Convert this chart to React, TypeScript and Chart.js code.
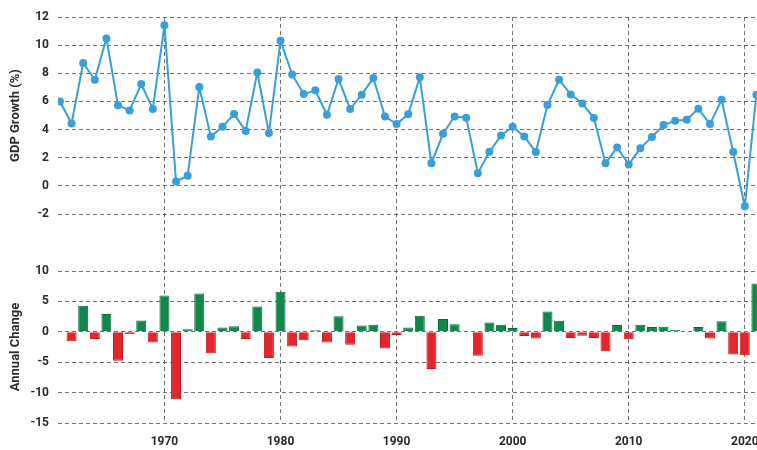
import React, { useEffect, useRef } from "react";
import { Chart, registerables } from "chart.js";

Chart.register(...registerables);

const years = [
  1961, 1962, 1963, 1964, 1965, 1966, 1967, 1968, 1969, 1970,
  1971, 1972, 1973, 1974, 1975, 1976, 1977, 1978, 1979, 1980,
  1981, 1982, 1983, 1984, 1985, 1986, 1987, 1988, 1989, 1990,
  1991, 1992, 1993, 1994, 1995, 1996, 1997, 1998, 1999, 2000,
  2001, 2002, 2003, 2004, 2005, 2006, 2007, 2008, 2009, 2010,
  2011, 2012, 2013, 2014, 2015, 2016, 2017, 2018, 2019, 2020,
  2021,
];

const gdpGrowth = [
  6.0, 4.43, 8.73, 7.54, 10.48, 5.72, 5.36, 7.23, 5.46, 11.41,
  0.31, 0.71, 7.02, 3.5, 4.2, 5.1, 3.9, 8.05, 3.75, 10.32,
  7.92, 6.52, 6.79, 5.05, 7.59, 5.46, 6.48, 7.66, 4.93, 4.39,
  5.08, 7.71, 1.61, 3.7, 4.93, 4.84, 0.9, 2.42, 3.58, 4.2,
  3.51, 2.4, 5.74, 7.54, 6.5, 5.86, 4.82, 1.61, 2.73, 1.52,
  2.68, 3.47, 4.32, 4.63, 4.7, 5.48, 4.39, 6.12, 2.4, -1.45,
  6.48,
];

const annualChange = [
  null, -1.57, 4.3, -1.19, 2.94, -4.76, -0.36, 1.87, -1.77, 5.95,
  -11.1, 0.4, 6.31, -3.52, 0.7, 0.9, -1.2, 4.15, -4.3, 6.57,
  -2.4, -1.4, 0.27, -1.74, 2.54, -2.13, 1.02, 1.18, -2.73, -0.54,
  0.69, 2.63, -6.1, 2.09, 1.23, -0.09, -3.94, 1.52, 1.16, 0.62,
  -0.69, -1.11, 3.34, 1.8, -1.04, -0.64, -1.04, -3.21, 1.12, -1.21,
  1.16, 0.79, 0.85, 0.31, 0.07, 0.78, -1.09, 1.73, -3.72, -3.85,
  7.93,
];

const xTicks = [1970, 1980, 1990, 2000, 2010, 2020];
const gdpTicks = [-2, 0, 2, 4, 6, 8, 10, 12];
const changeTicks = [-15, -10, -5, 0, 5, 10];

const LINE_COLOR = "#3a9ed8";
const GREEN = "#10884a";
const GREEN_EDGE = "#0a6a37";
const RED = "#e3262b";
const RED_EDGE = "#b81c20";
const GRID = "rgba(80,80,80,0.8)";
const TEXT = "#2b2b2b";
const FONT = "Roboto, 'DejaVu Sans', sans-serif";

export default function App() {
  const ref = useRef<HTMLCanvasElement | null>(null);

  useEffect(() => {
    if (!ref.current) return;
    const tickFont = { family: FONT, size: 12, weight: "bold" as const };
    const titleFont = { family: FONT, size: 13, weight: "bold" as const };
    const fixWidth = (s: any) => {
      s.width = 58;
    };
    const yTicks = (font: any) => ({
      font,
      color: TEXT,
      padding: 9,
      autoSkip: false,
      callback: (v: any) => String(v),
    });
    const chart = new Chart(ref.current, {
      type: "line",
      data: {
        datasets: [
          {
            type: "line",
            label: "GDP Growth",
            data: years.map((y, i) => ({ x: y, y: gdpGrowth[i] })),
            xAxisID: "x",
            yAxisID: "yTop",
            borderColor: LINE_COLOR,
            backgroundColor: LINE_COLOR,
            borderWidth: 2,
            pointRadius: 4,
            pointBorderWidth: 0,
            pointBackgroundColor: LINE_COLOR,
            tension: 0,
          } as any,
          {
            type: "bar",
            label: "Annual Change",
            data: years.map((y, i) => ({ x: y, y: annualChange[i] })),
            xAxisID: "x",
            yAxisID: "yBot",
            backgroundColor: annualChange.map((v) => ((v ?? 0) >= 0 ? GREEN : RED)),
            borderColor: annualChange.map((v) => ((v ?? 0) >= 0 ? GREEN_EDGE : RED_EDGE)),
            borderWidth: 1,
            barPercentage: 0.86,
            categoryPercentage: 1,
          } as any,
        ],
      },
      options: {
        animation: false,
        responsive: true,
        maintainAspectRatio: false,
        layout: { padding: { top: 17, right: 1, bottom: 0, left: 0 } },
        plugins: {
          legend: { display: false },
          tooltip: { enabled: false },
        },
        scales: {
          x: {
            type: "linear",
            position: "bottom",
            min: 1960.83,
            max: 2022,
            offset: false,
            afterBuildTicks: (s: any) => {
              s.ticks = xTicks.map((v) => ({ value: v }));
            },
            afterFit: (s: any) => {
              s.height = 27;
            },
            ticks: {
              callback: (v: any) => String(v),
              font: tickFont,
              color: TEXT,
              padding: 12,
              maxRotation: 0,
              autoSkip: false,
            },
            grid: { color: GRID, lineWidth: 1, drawTicks: false, offset: false },
            border: { display: false, dash: [4, 3] },
          },
          yBot: {
            type: "linear",
            position: "left",
            stack: "v",
            stackWeight: 152,
            min: -15,
            max: 10,
            afterBuildTicks: (s: any) => {
              s.ticks = changeTicks.map((v) => ({ value: v }));
            },
            afterFit: fixWidth,
            ticks: yTicks(tickFont),
            grid: { color: GRID, lineWidth: 1, drawTicks: false },
            border: { display: false, dash: [4, 3] },
            title: {
              display: true,
              text: "Annual Change",
              font: titleFont,
              color: TEXT,
              padding: { top: 8, bottom: 0 },
            },
          },
          yGap: {
            type: "linear",
            position: "left",
            stack: "v",
            stackWeight: 57,
            min: 0,
            max: 1,
            afterFit: fixWidth,
            ticks: { display: false },
            grid: { display: false, drawTicks: false },
            border: { display: false },
          },
          yTop: {
            type: "linear",
            position: "left",
            stack: "v",
            stackWeight: 197,
            min: -2,
            max: 12,
            afterBuildTicks: (s: any) => {
              s.ticks = gdpTicks.map((v) => ({ value: v }));
            },
            afterFit: fixWidth,
            ticks: yTicks(tickFont),
            grid: { color: GRID, lineWidth: 1, drawTicks: false },
            border: { display: false, dash: [4, 3] },
            title: {
              display: true,
              text: "GDP Growth (%)",
              font: titleFont,
              color: TEXT,
              padding: { top: 8, bottom: 0 },
            },
          },
        } as any,
      },
    });
    return () => chart.destroy();
  }, []);

  return (
    <div
      style={{
        position: "fixed",
        left: 0,
        top: 0,
        width: 757,
        height: 450,
        overflow: "hidden",
        background: "#ffffff",
      }}
    >
      <div style={{ position: "relative", width: 772, height: 450 }}>
        <canvas ref={ref} />
      </div>
    </div>
  );
}
